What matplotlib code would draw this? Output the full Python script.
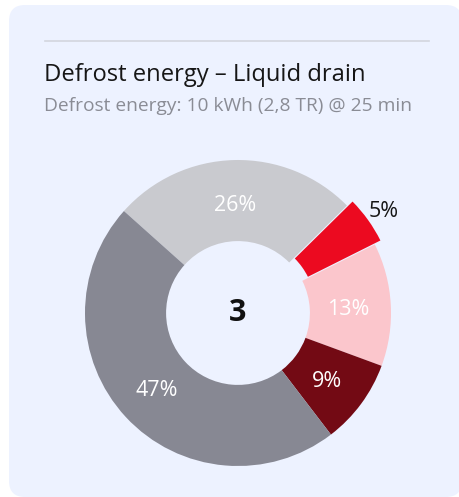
import matplotlib
matplotlib.use("Agg")
import matplotlib.pyplot as plt
from matplotlib.patches import FancyBboxPatch
from matplotlib.lines import Line2D
import numpy as np

# data
labels = ["Cat A", "Cat B", "Cat C", "Cat D", "Cat E"]
values = [26, 5, 13, 9, 47]
colors = ["#C9CACF", "#EC0A20", "#FBC6CC", "#730A14", "#878893"]
center_value = "3"
title = "Defrost energy \u2013 Liquid drain"
subtitle = "Defrost energy: 10 kWh (2,8 TR) @ 25 min"

W, H = 459, 497
fig = plt.figure(figsize=(W / 100, H / 100), dpi=100)
fig.patch.set_facecolor("white")

def fx(x):
    return x / W

def fy(y):
    return 1 - y / H

card = FancyBboxPatch((fx(9), fy(497)), fx(462) - fx(9), fy(5) - fy(497),
                      boxstyle="round,pad=0,rounding_size=0.035",
                      transform=fig.transFigure, facecolor="#EDF2FF",
                      edgecolor="none", mutation_aspect=W / H, zorder=-10)
fig.patches.append(card)
fig.lines.append(Line2D([fx(45), fx(429)], [fy(41), fy(41)], transform=fig.transFigure,
                        color="#D3D6DE", lw=1.2, zorder=-5))

fig.text(fx(44), fy(75), title, fontsize=17.1, color="#161616",
         family="Open Sans", va="center", ha="left")
fig.text(fx(44), fy(106), subtitle, fontsize=13.75, color="#8A8C95",
         family="Open Sans", va="center", ha="left")

cx, cy, R = 238, 313, 153
ax = fig.add_axes([fx(cx - R), fy(cy + R), (2 * R) / W, (2 * R) / H])
ax.set_facecolor("none")
explode = [0, 0.045, 0, 0, 0]
wedges, _ = ax.pie(values, colors=colors, startangle=138.2, counterclock=False,
                   explode=explode, radius=1,
                   wedgeprops=dict(width=0.53, edgecolor="none"))

total = sum(values)
ang = 138.2
for v, w in zip(values, wedges):
    sweep = v / total * 360
    mid = np.deg2rad(ang - sweep / 2)
    ang -= sweep
    if v < 8:
        r = 1.17
        col = "#161616"
    else:
        r = 0.72
        col = "white"
    ax.text(r * np.cos(mid), r * np.sin(mid) - 0.02, f"{v}%", ha="center", va="center",
            fontsize=15.5, color=col, family="Open Sans")

ax.text(0, 0, center_value, ha="center", va="center", fontsize=22,
        fontweight="bold", color="#111111", family="Open Sans")
ax.set_xlim(-1, 1)
ax.set_ylim(-1, 1)
ax.set_aspect("equal")
ax.axis("off")
for w in wedges:
    w.set_clip_on(False)

fig.savefig("out.png", dpi=100, facecolor="white")
